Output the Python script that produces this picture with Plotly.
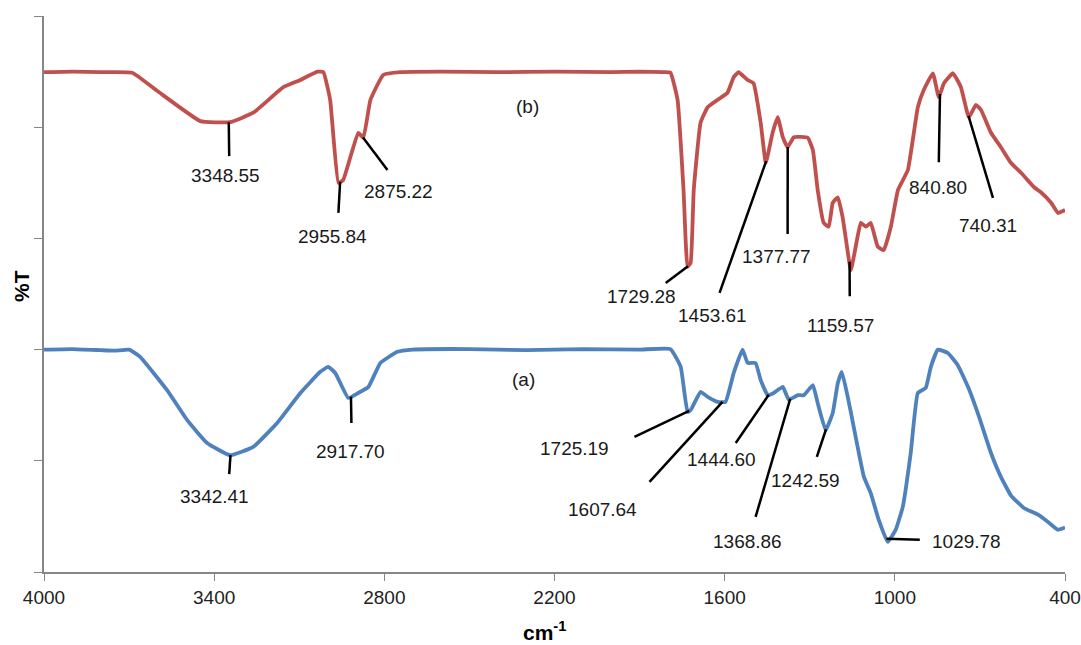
import numpy as np
import plotly.graph_objects as go

# FTIR spectra: wavenumber (cm-1) and transmittance (offset, arbitrary units)
wn_b = [4000, 3900, 3800, 3689, 3600, 3449, 3344, 3262, 3156, 3096, 3036, 3015,
        2991, 2962, 2945, 2892, 2874, 2849, 2804, 2744, 2600, 2400, 2200, 2000,
        1900, 1815, 1791, 1766, 1745, 1731, 1720, 1709, 1685, 1660, 1614, 1590,
        1568, 1551, 1519, 1498, 1473, 1455, 1431, 1413, 1395, 1378, 1356, 1307,
        1289, 1272, 1251, 1233, 1219, 1201, 1184, 1155, 1138, 1120, 1102, 1085,
        1060, 1039, 1014, 989, 954, 919, 898, 866, 845, 827, 795, 767, 739, 714,
        696, 661, 626, 591, 555, 509, 485, 449, 425, 400]
t_b = [89.9, 90.0, 89.9, 89.8, 86.5, 81.1, 80.9, 82.6, 87.2, 88.5, 90.0, 89.9,
       84.9, 70.0, 70.5, 79.0, 78.1, 84.9, 89.4, 89.9, 90.0, 89.9, 90.0, 89.9,
       90.0, 89.9, 89.8, 84.9, 68.7, 54.9, 55.6, 68.7, 80.8, 83.6, 85.3, 86.2,
       89.0, 89.9, 88.5, 87.9, 80.8, 73.6, 79.0, 81.8, 78.2, 76.4, 78.2, 78.1,
       75.9, 68.7, 62.8, 62.1, 66.4, 67.4, 63.8, 54.3, 58.5, 62.8, 62.1, 62.8,
       58.5, 57.9, 62.1, 68.7, 72.3, 83.6, 86.7, 89.7, 85.4, 87.9, 89.7, 87.2,
       81.8, 84.0, 83.1, 79.0, 76.4, 73.6, 71.8, 69.2, 68.3, 66.4, 64.6, 65.1]

wn_a = [4000, 3900, 3800, 3750, 3700, 3661, 3566, 3495, 3425, 3344, 3262, 3178,
        3096, 3026, 2998, 2973, 2927, 2892, 2856, 2814, 2754, 2700, 2500, 2300,
        2100, 1900, 1791, 1755, 1731, 1720, 1685, 1660, 1625, 1597, 1568, 1537,
        1519, 1491, 1473, 1448, 1427, 1395, 1374, 1342, 1321, 1289, 1272, 1244,
        1219, 1201, 1187, 1166, 1145, 1109, 1085, 1057, 1025, 997, 972, 944, 919,
        891, 873, 848, 813, 778, 742, 703, 661, 626, 591, 545, 495, 460, 425, 400]
t_a = [40.0, 40.1, 39.9, 39.8, 40.0, 38.7, 32.7, 27.3, 23.2, 21.0, 22.5, 26.8,
       32.2, 36.0, 36.9, 35.8, 31.3, 32.2, 33.3, 37.6, 39.6, 40.0, 40.1, 39.9,
       40.1, 40.0, 40.1, 36.9, 28.8, 29.1, 32.4, 31.5, 30.6, 30.6, 35.8, 40.0,
       37.6, 37.6, 34.5, 31.8, 32.2, 33.3, 31.0, 31.8, 31.8, 33.6, 30.4, 25.5,
       28.6, 34.0, 36.0, 31.5, 26.1, 17.1, 14.2, 9.4, 5.4, 7.6, 11.7, 21.4, 32.2,
       33.1, 36.9, 40.0, 39.4, 37.2, 33.3, 27.9, 21.4, 17.1, 13.8, 11.5, 10.3,
       9.0, 7.6, 8.0]

x_ticks = [4000, 3400, 2800, 2200, 1600, 1000, 400]
y_ticks = [0, 20, 40, 60, 80, 100]

# Peak labels for each spectrum
peaks_b = [1729.28, 1453.61, 1377.77, 1159.57, 840.80, 740.31, 3348.55, 2955.84, 2875.22]
peaks_a = [3342.41, 2917.70, 1725.19, 1607.64, 1444.60, 1368.86, 1242.59, 1029.78]
# leader end (x, y) and text centre (x, y), per peak
label_layout = {
    3348.55: (3347, 74.8, 3361, 71.4),
    2955.84: (2962, 64.6, 2984, 60.4),
    2875.22: (2789, 72.3, 2751, 68.5),
    1729.28: (1808, 52.0, 1893, 49.5),
    1453.61: (1618, 50.2, 1642, 46.2),
    1377.77: (1378, 60.8, 1416, 56.8),
    1159.57: (1159, 49.6, 1191, 44.4),
    840.80: (845, 73.7, 848, 69.1),
    740.31: (654, 67.3, 672, 62.4),
    3342.41: (3347, 17.6, 3400, 13.5),
    2917.70: (2916, 26.8, 2920, 21.6),
    1725.19: (1918, 24.3, 2129, 22.3),
    1607.64: (1865, 16.2, 2031, 11.2),
    1444.60: (1561, 23.2, 1611, 20.3),
    1368.86: (1491, 9.9, 1519, 5.4),
    1242.59: (1275, 20.7, 1314, 16.4),
    1029.78: (912, 5.8, 746, 5.4),
}

RED = "#C0504D"
BLUE = "#4F81BD"
FONT = "Liberation Sans, Arial, sans-serif"
TEXT_FONT = dict(family=FONT, size=19, color="#1a1a1a")

fig = go.Figure()
fig.add_trace(go.Scatter(x=wn_b, y=t_b, mode="lines", name="(b)",
                         line=dict(color=RED, width=3.8, shape="spline", smoothing=0.35)))
fig.add_trace(go.Scatter(x=wn_a, y=t_a, mode="lines", name="(a)",
                         line=dict(color=BLUE, width=3.8, shape="spline", smoothing=0.35)))


def curve_value(wn, t, x):
    # interpolate on increasing wavenumber
    return float(np.interp(x, wn[::-1], t[::-1]))


shapes = []
annotations = []
for wn, t, peaks in ((wn_b, t_b, peaks_b), (wn_a, t_a, peaks_a)):
    for p in peaks:
        ex, ey, tx, ty = label_layout[p]
        shapes.append(dict(type="line", xref="x", yref="y", x0=p, y0=curve_value(wn, t, p),
                           x1=ex, y1=ey, line=dict(color="black", width=2.5), layer="above"))
        annotations.append(dict(x=tx, y=ty, xref="x", yref="y", text=f"{p:.2f}",
                                showarrow=False, font=TEXT_FONT))

annotations.append(dict(x=2295, y=83.8, xref="x", yref="y", text="(b)", showarrow=False,
                        font=TEXT_FONT))
annotations.append(dict(x=2309, y=34.7, xref="x", yref="y", text="(a)", showarrow=False,
                        font=TEXT_FONT))
annotations.append(dict(x=0, y=0.5, xref="paper", yref="paper", xanchor="center", yanchor="middle",
                        xshift=-23, yshift=8, text="<b>%T</b>", textangle=-90, showarrow=False,
                        font=dict(family=FONT, size=21, color="black")))
annotations.append(dict(x=0.49, y=0, xref="paper", yref="paper", xanchor="center", yanchor="middle",
                        yshift=-59, text="<b>cm<sup>-1</sup></b>", showarrow=False,
                        font=dict(family=FONT, size=21, color="black")))

fig.update_layout(
    width=1081, height=645,
    margin=dict(l=44, r=16, t=16, b=73),
    paper_bgcolor="white", plot_bgcolor="white",
    showlegend=False,
    shapes=shapes, annotations=annotations,
    xaxis=dict(range=[4000, 400], tickvals=x_ticks, ticktext=[str(v) for v in x_ticks],
               ticks="outside", ticklen=7, tickcolor="#868686", tickwidth=1,
               showline=True, linecolor="#868686", linewidth=1.5,
               showgrid=False, zeroline=False, automargin=False,
               tickfont=dict(family=FONT, size=19, color="#222")),
    yaxis=dict(range=[0, 100], tickvals=y_ticks, showticklabels=False,
               ticks="outside", ticklen=8, tickcolor="#868686", tickwidth=1,
               showline=True, linecolor="#868686", linewidth=1.5,
               showgrid=False, zeroline=False, automargin=False),
)

fig.write_html("out.html")
